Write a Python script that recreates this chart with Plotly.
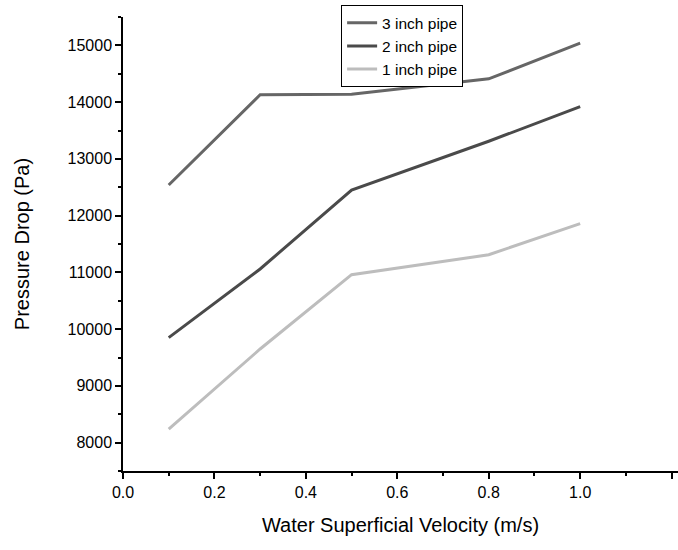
import plotly.graph_objects as go

velocity = [0.1, 0.3, 0.5, 0.8, 1.0]
drop_3inch = [12540, 14130, 14140, 14410, 15040]
drop_2inch = [9850, 11060, 12450, 13310, 13920]
drop_1inch = [8240, 9650, 10960, 11310, 11860]

series = [
    ("3 inch pipe", drop_3inch, "#666666"),
    ("2 inch pipe", drop_2inch, "#4a4a4a"),
    ("1 inch pipe", drop_1inch, "#bdbdbd"),
]

fig = go.Figure()
for name, values, color in series:
    fig.add_trace(go.Scatter(x=velocity, y=values, mode="lines", name=name,
                             line={"color": color, "width": 3}))

axis_common = dict(
    showline=True, linecolor="black", linewidth=1.5, ticks="outside", ticklen=6,
    tickwidth=1.5, tickcolor="black", showgrid=False, zeroline=False, automargin=False,
    tickfont={"size": 16, "color": "black"},
)

fig.update_xaxes(
    range=[0, 1.214], dtick=0.2, tickformat=".1f",
    minor={"dtick": 0.1, "ticks": "outside", "ticklen": 3, "tickcolor": "black", "tickwidth": 1.5},
    title={"text": "Water Superficial Velocity (m/s)", "font": {"size": 20, "color": "black"}, "standoff": 18},
    **axis_common,
)
fig.update_yaxes(
    range=[7500, 15500], dtick=1000, tickformat="d",
    minor={"dtick": 500, "ticks": "outside", "ticklen": 3, "tickcolor": "black", "tickwidth": 1.5},
    title={"text": "Pressure Drop (Pa)", "font": {"size": 20, "color": "black"}, "standoff": 33},
    **axis_common,
)

fig.update_layout(
    width=678, height=550,
    margin={"l": 123, "r": 0, "t": 17, "b": 79},
    plot_bgcolor="white", paper_bgcolor="white",
    font={"family": "Arial", "color": "black"},
    legend={"x": 0.393, "y": 1.026, "xanchor": "left", "yanchor": "top",
            "bordercolor": "black", "borderwidth": 1, "bgcolor": "white",
            "font": {"size": 15.5}, "tracegroupgap": 0, "itemwidth": 30},
    showlegend=True,
)

# page body has a default 8px margin; drop it so the figure sits at the window corner
fig.write_html("out.html", config={"displayModeBar": False},
               post_script="document.body.style.margin='0';")
